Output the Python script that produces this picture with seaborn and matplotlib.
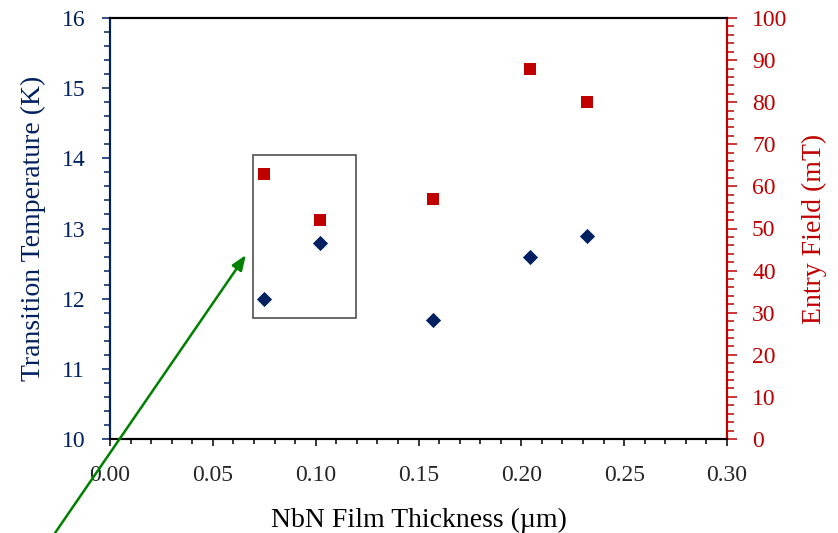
import matplotlib
matplotlib.use("Agg")
import matplotlib.pyplot as plt
from matplotlib.ticker import MultipleLocator, FormatStrFormatter
from matplotlib.patches import Rectangle
import seaborn as sns
import pandas as pd

# NbN film measurements
thickness_um = [0.075, 0.102, 0.157, 0.204, 0.232]
transition_temp_K = [12.0, 12.8, 11.7, 12.6, 12.9]
entry_field_mT = [63, 52, 57, 88, 80]

NAVY = "#002060"
RED = "#C00000"

sns.set_style("white")
plt.rcParams["font.family"] = ["Liberation Serif", "DejaVu Serif"]

df = pd.DataFrame({"t": thickness_um, "Tc": transition_temp_K, "B": entry_field_mT})

fig = plt.figure(figsize=(8.38, 5.33), dpi=100)
ax = fig.add_axes([110 / 838, 1 - 439 / 533, 617 / 838, 421 / 533])
ax2 = ax.twinx()

sns.scatterplot(data=df, x="t", y="Tc", ax=ax, marker="D", s=60, color=NAVY,
                linewidth=0, zorder=3)
sns.scatterplot(data=df, x="t", y="B", ax=ax2, marker="s", s=80, color=RED,
                linewidth=0, zorder=3)

ax.set_xlim(0, 0.30)
ax.set_ylim(10, 16)
ax2.set_ylim(0, 100)

ax.xaxis.set_major_locator(MultipleLocator(0.05))
ax.xaxis.set_minor_locator(MultipleLocator(0.01))
ax.xaxis.set_major_formatter(FormatStrFormatter("%.2f"))
ax.yaxis.set_major_locator(MultipleLocator(1))
ax.yaxis.set_minor_locator(MultipleLocator(0.2))
ax2.yaxis.set_major_locator(MultipleLocator(10))
ax2.yaxis.set_minor_locator(MultipleLocator(2))

fs_tick = 17
fs_label = 20
ax.tick_params(axis="x", which="major", direction="out", length=5, width=1.1,
               color="black", labelsize=fs_tick, pad=14, bottom=True)
ax.tick_params(axis="x", which="minor", direction="out", length=3.6, width=1.1,
               color="black", bottom=True)
ax.tick_params(axis="y", which="major", direction="out", length=5.8, width=1.1,
               color=NAVY, labelcolor=NAVY, labelsize=fs_tick, pad=12, left=True)
ax.tick_params(axis="y", which="minor", direction="out", length=4.3, width=1.1,
               color=NAVY, left=True)
ax2.tick_params(axis="y", which="major", direction="out", length=7, width=1.1,
                color=RED, labelcolor=RED, labelsize=fs_tick, pad=11, right=True)
ax2.tick_params(axis="y", which="minor", direction="out", length=5, width=1.1,
                color=RED, right=True)

for a in (ax, ax2):
    for side, sp in a.spines.items():
        sp.set_visible(True)
        sp.set_linewidth(1.5)
        sp.set_color("black")
ax.spines["left"].set_color(NAVY)
ax2.spines["left"].set_color(NAVY)
ax2.spines["right"].set_color(RED)
ax.spines["right"].set_color(RED)

ax.set_xlabel("NbN Film Thickness (µm)", fontsize=fs_label, color="black")
ax.set_ylabel("Transition Temperature (K)", fontsize=fs_label, color=NAVY)
ax2.set_ylabel("Entry Field (mT)", fontsize=fs_label, color=RED, rotation=90)
ax.xaxis.set_label_coords(0.5, -81 / 421, transform=ax.transAxes)
ax.yaxis.set_label_coords(-77 / 617, 0.5, transform=ax.transAxes)
ax2.yaxis.set_label_coords(1 + 87 / 617, 0.5, transform=ax.transAxes)
ax.xaxis.label.set_va("center")
ax.yaxis.label.set_va("center")
ax2.yaxis.label.set_va("center")

# box around the two thinnest films
ax.add_patch(Rectangle((0.0694, 11.73), 0.0502, 2.32, fill=False,
                       edgecolor="#505050", linewidth=1.2, zorder=4))

# pointer arrow from the lower margin
ax2.annotate("", xy=(0.0661, 43.7), xycoords="data",
             xytext=(55 / 838, 0.0), textcoords="figure fraction",
             arrowprops=dict(arrowstyle="-|>,head_length=0.9,head_width=0.35",
                             color="#008000", lw=1.8, shrinkA=0, shrinkB=0),
             annotation_clip=False, zorder=5)

fig.savefig("out.png", dpi=100)
